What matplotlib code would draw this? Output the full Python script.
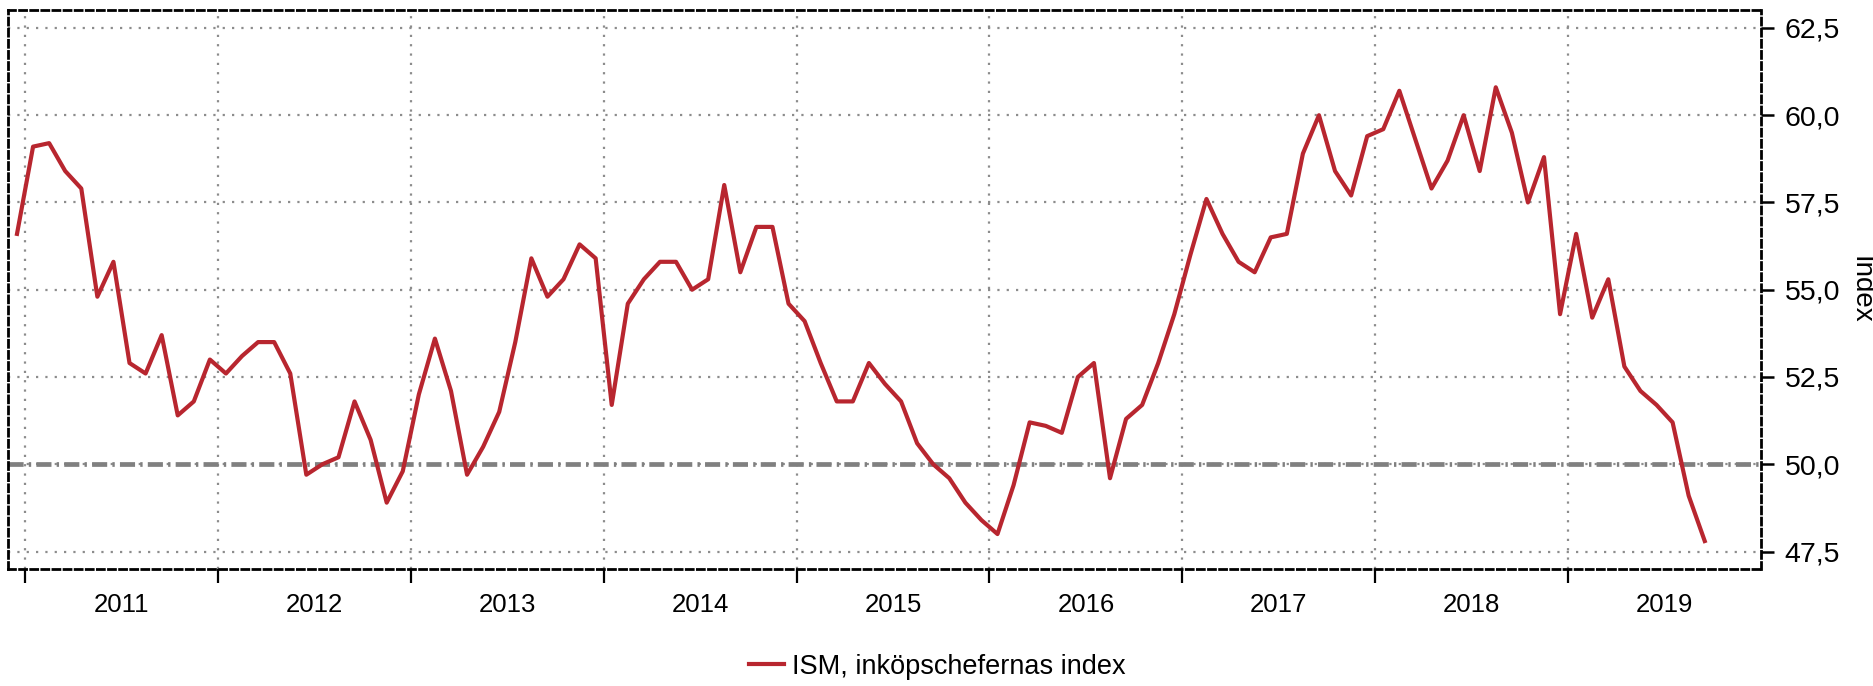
import numpy as np
import pandas as pd
import matplotlib.pyplot as plt

plt.rcParams['font.family'] = ['Liberation Sans', 'DejaVu Sans']

# ISM manufacturing index, monthly, Dec 2010 - Sep 2019
months = pd.period_range("2010-12", "2019-09", freq="M")
ism = [56.6, 59.1, 59.2, 58.4, 57.9, 54.8, 55.8, 52.9, 52.6, 53.7, 51.4, 51.8,
       53.0, 52.6, 53.1, 53.5, 53.5, 52.6, 49.7, 50.0, 50.2, 51.8, 50.7, 48.9,
       49.8, 52.0, 53.6, 52.1, 49.7, 50.5, 51.5, 53.5, 55.9, 54.8, 55.3, 56.3,
       55.9, 51.7, 54.6, 55.3, 55.8, 55.8, 55.0, 55.3, 58.0, 55.5, 56.8, 56.8,
       54.6, 54.1, 52.9, 51.8, 51.8, 52.9, 52.3, 51.8, 50.6, 50.0, 49.6, 48.9,
       48.4, 48.0, 49.4, 51.2, 51.1, 50.9, 52.5, 52.9, 49.6, 51.3, 51.7, 52.9,
       54.3, 56.0, 57.6, 56.6, 55.8, 55.5, 56.5, 56.6, 58.9, 60.0, 58.4, 57.7,
       59.4, 59.6, 60.7, 59.3, 57.9, 58.7, 60.0, 58.4, 60.8, 59.5, 57.5, 58.8,
       54.3, 56.6, 54.2, 55.3, 52.8, 52.1, 51.7, 51.2, 49.1, 47.8]
years = list(range(2011, 2020))
yticks = [47.5, 50.0, 52.5, 55.0, 57.5, 60.0, 62.5]
ytick_labels = ["47,5", "50,0", "52,5", "55,0", "57,5", "60,0", "62,5"]
threshold = 50.0

x = np.asarray(months.year) + (np.asarray(months.month) - 0.5) / 12

fig = plt.figure(figsize=(18.74, 6.86), dpi=100)
ax = fig.add_axes([0.0043, 0.1706, 0.9354, 0.8141])

ax.axhline(threshold, color='#808080', lw=3.4, dash_capstyle='butt',
           linestyle=(0, (3.2, 1.1, 0.5, 1.1)), zorder=2)
ax.plot(x, ism, color='#B8262F', lw=3.0, label='ISM, inköpschefernas index', zorder=3)

ax.set_xlim(2010.912, 2020.0)
ax.set_ylim(47.0, 63.0)

ax.set_xticks(years)
ax.set_xticklabels([])
ax.set_xticks([y + 0.5 for y in years], minor=True)
ax.set_xticklabels([str(y) for y in years], minor=True, fontsize=18.5)
ax.tick_params(axis='x', which='major', direction='out', length=10, width=1.6, color='black')
ax.tick_params(axis='x', which='minor', length=0, pad=17)

ax.yaxis.tick_right()
ax.set_yticks(yticks)
ax.set_yticklabels(ytick_labels, fontsize=20.5)
ax.tick_params(axis='y', direction='out', length=9, width=1.8, pad=8, color='black')
ax.yaxis.set_label_position('right')
ax.set_ylabel('Index', fontsize=20, rotation=270, va='center', ha='center')
ax.yaxis.set_label_coords(1.057, 0.5)

ax.grid(True, which='major', color='#8c8c8c', lw=1.6, linestyle=(0, (1, 3.2)))

for sp in ax.spines.values():
    sp.set_linestyle((0, (2.5, 1.5)))
    sp.set_linewidth(2.0)
    sp.set_color('black')

fig.legend(loc='center', bbox_to_anchor=(0.5, 0.028), frameon=False, fontsize=19.5,
           handlelength=1.3, handletextpad=0.3)

fig.savefig('out.png', dpi=100)
